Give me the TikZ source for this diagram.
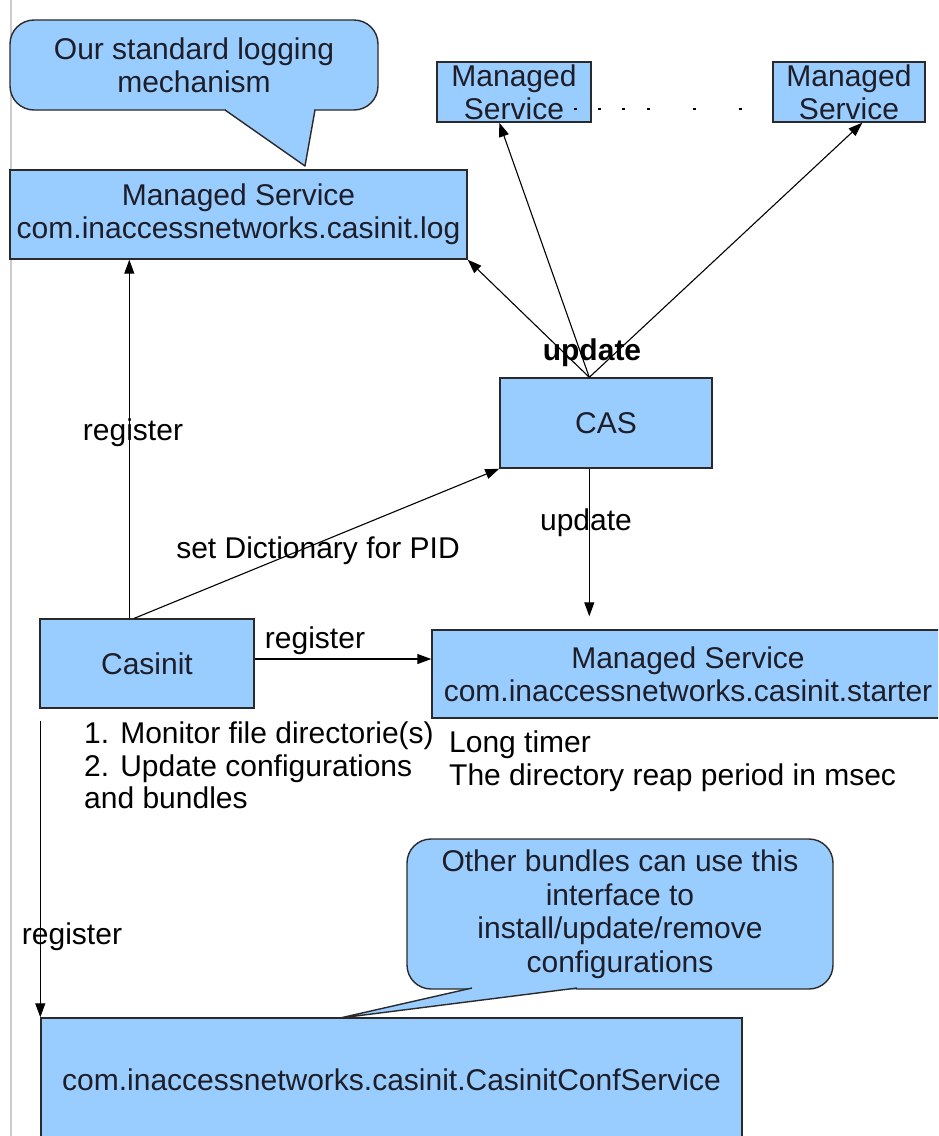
\documentclass[tikz,border=0pt]{standalone}
\usepackage{fontspec}
\setmainfont{Liberation Sans}
\usetikzlibrary{arrows.meta,calc}
\definecolor{boxfill}{HTML}{99CCFF}
\definecolor{boxline}{HTML}{2A2A2A}
\definecolor{txt}{HTML}{1E1E28}
\begin{document}
\begin{tikzpicture}[x=1pt,y=-1pt,
  every node/.style={font=\fontsize{30}{33}\selectfont, text=txt, inner sep=0pt},
  box/.style={draw=boxline, fill=boxfill, line width=1.4pt, align=center},
  bubble/.style={box, rounded corners=24pt},
  conn/.style={line width=1.1pt, draw=black, -{Triangle[length=14pt,width=10pt]}},
  note/.style={anchor=north west, align=left, font=\fontsize{30}{32.5}\selectfont, text=black},
  lbl/.style={text=black}]
\useasboundingbox (0,0) rectangle (938,1136);
\clip (0,0) rectangle (938,1136);
\draw[black!20, line width=1.5pt] (11,0) -- (11,1136);

% nodes
\node[bubble, minimum width=368pt, minimum height=90pt] (logcall) at (194,65) {Our standard logging\\mechanism};
\node[box, minimum width=457pt, minimum height=89pt] (log) at (238.5,214.5) {Managed Service\\com.inaccessnetworks.casinit.log};
\node[box, minimum width=154pt, minimum height=60pt] (ms1) at (514,92) {Managed\\Service};
\node[box, minimum width=152pt, minimum height=60pt] (ms2) at (849,92) {Managed\\Service};
\node[box, minimum width=212pt, minimum height=90pt] (cas) at (606,423) {CAS};
\node[box, minimum width=214pt, minimum height=89pt] (casinit) at (147,663.5) {Casinit};
\node[box, minimum width=512pt, minimum height=88pt] (starter) at (688,674) {Managed Service\\com.inaccessnetworks.casinit.starter};
\node[box, minimum width=701pt, minimum height=124pt] (conf) at (391.5,1080) {com.inaccessnetworks.casinit.CasinitConfService};
\node[bubble, minimum width=426pt, minimum height=150pt, font=\fontsize{30}{33.5}\selectfont] (confcall) at (620,914) {Other bundles can use this\\interface to\\install/update/remove\\configurations};

% callout tails
\fill[boxfill] (226,108.4) rectangle (314,111.5);
\fill[boxfill] (225,110) -- (305,166) -- (315,110) -- cycle;
\draw[boxline, line width=1.4pt, line join=round] (225,110) -- (305,166) -- (315,110);
\fill[boxfill] (473,986.4) rectangle (576,989.5);
\fill[boxfill] (472,988) -- (340,1018) -- (577,988) -- cycle;
\draw[boxline, line width=1.4pt, line join=round] (472,988) -- (340,1018) -- (577,988);

% dotted continuation between the top managed services
\foreach \x in {574,598,622,647,693,739} \draw[line width=1.3pt] (\x,109) -- (\x+3,109);

% connectors from CAS
\coordinate (casTop) at ($(cas.north west)+(90,0)$);
\draw[conn] (casTop) -- (log.south east);
\draw[conn] (casTop) -- ($(ms1.south west)+(63,0)$);
\draw[conn] (casTop) -- ($(ms2.south west)+(90,0)$);
\node[font=\fontsize{30}{33}\selectfont\bfseries, text=black] (upd) at (592,353) {update};

% connectors from Casinit
\draw[conn] ($(casinit.north west)+(90,0)$) -- ($(log.south west)+(120,0)$);
\node[lbl] (reg1) at (133,433) {register};
\draw[conn] ($(casinit.north west)+(95,0)$) -- (cas.south west);
\node[lbl] (setd) at (318,551) {set Dictionary for PID};
\draw[conn] ($(cas.south west)+(90,0)$) -- ($(starter.north west)+(158,-13)$);
\node[lbl] (upd2) at (586,523) {update};
\draw[conn] ($(casinit.east)+(0,-4.5)$) -- ($(starter.west)+(0,-15)$);
\node[lbl] (reg2) at (315,641) {register};
\draw[conn] ($(casinit.south west)+(1,12)$) -- (conf.north west);
\node[lbl] (reg3) at (72,937) {register};

% notes
\node[note] (notes1) at (84,722) {1. Monitor file directorie(s)\\2. Update configurations\\and bundles};
\node[note] (notes2) at (449,731) {Long timer\\The directory reap period in msec};
\end{tikzpicture}
\end{document}
